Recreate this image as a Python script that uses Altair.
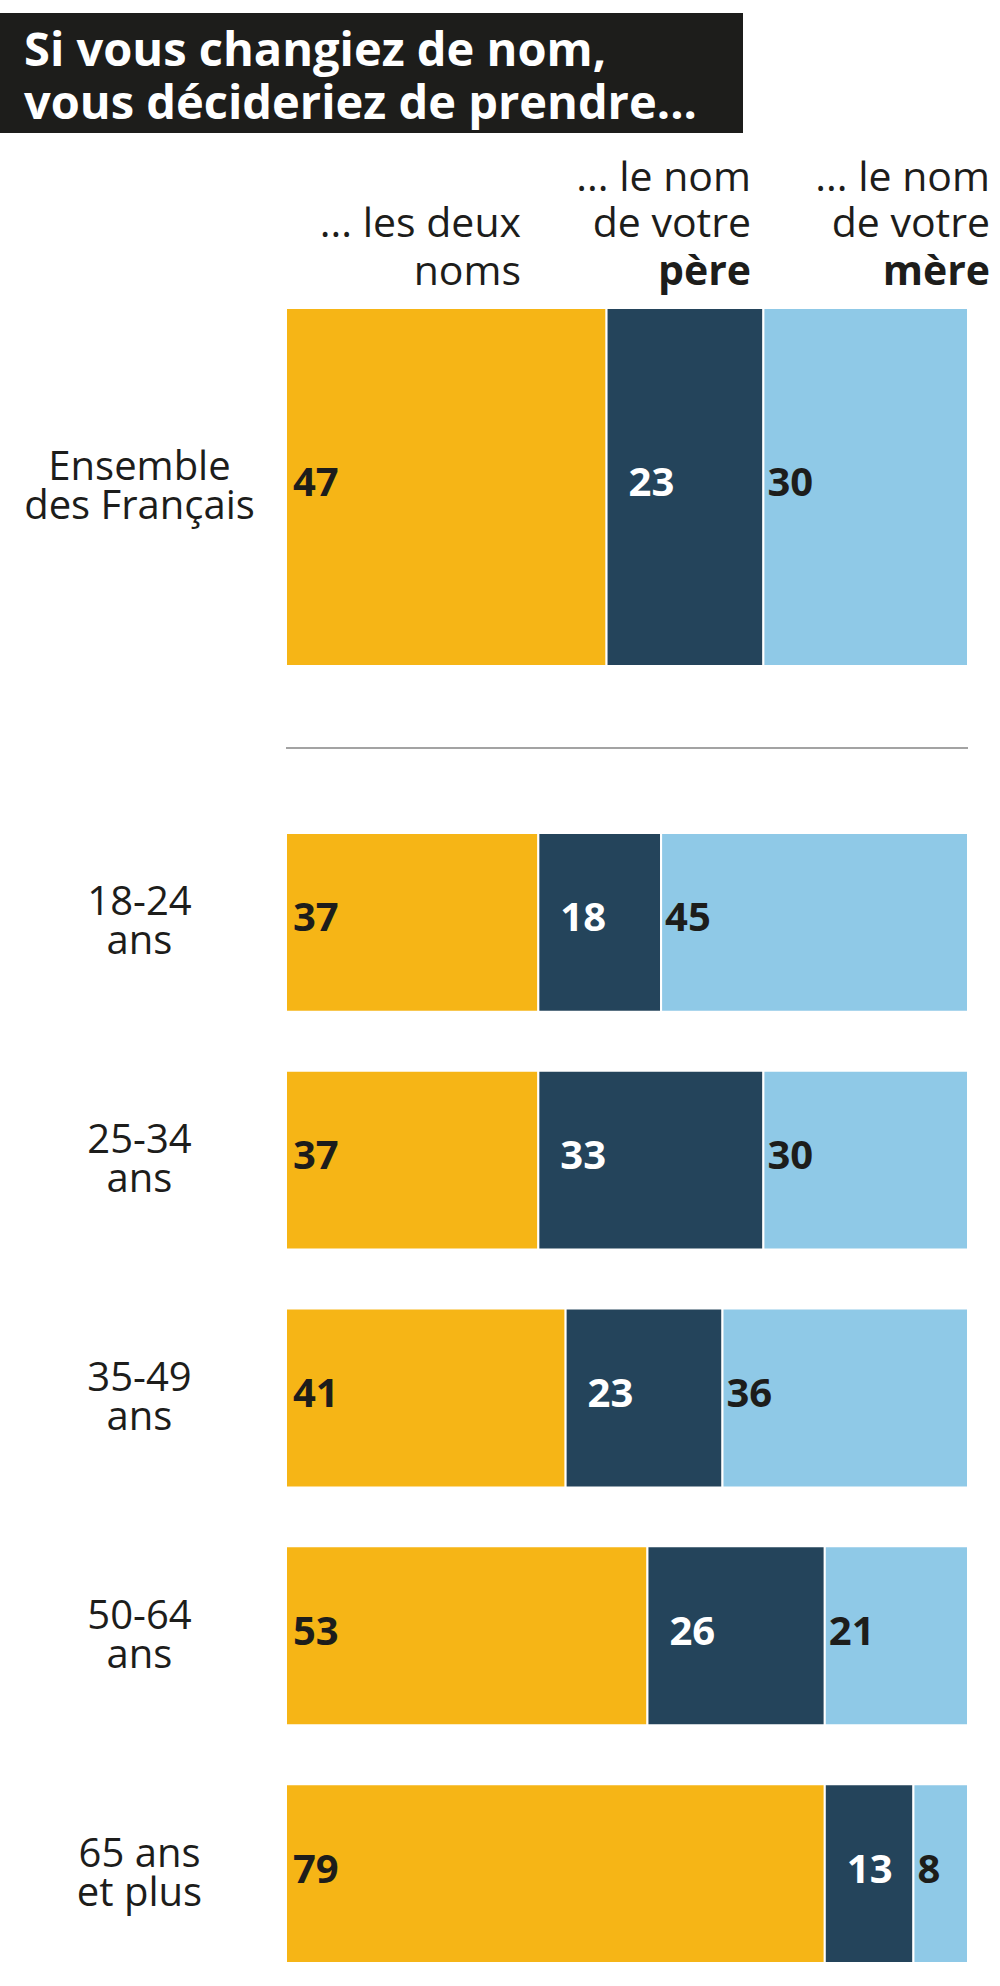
import altair as alt
import pandas as pd

# ---------------- data ----------------
title_lines = ["Si vous changiez de nom,", "vous décideriez de prendre..."]
series = ["les deux noms", "le nom de votre père", "le nom de votre mère"]
header_regular = [["... les deux", "noms"], ["... le nom", "de votre"], ["... le nom", "de votre"]]
header_bold = ["", "père", "mère"]
colors = ["#F6B516", "#24445B", "#8FC9E7"]
label_colors = ["#1d1d1b", "#ffffff", "#1d1d1b"]

group_all = ["Ensemble|des Français"]
values_all = [47, 23, 30]

age_groups = ["18-24|ans", "25-34|ans", "35-49|ans", "50-64|ans", "65 ans|et plus"]
deux_noms = [37, 37, 41, 53, 79]
nom_pere = [18, 33, 23, 26, 13]
nom_mere = [45, 30, 36, 21, 8]

FONT = "Open Sans"
INK = "#1d1d1b"
BAR_W = 682


def make_df(groups, cols):
    rows = []
    for gi, g in enumerate(groups):
        for si, s in enumerate(series):
            rows.append({"group": g, "series": s, "order": si, "value": cols[si][gi]})
    return pd.DataFrame(rows)


df_all = make_df(group_all, [[values_all[0]], [values_all[1]], [values_all[2]]])
df_age = make_df(age_groups, [deux_noms, nom_pere, nom_mere])

xscale = alt.Scale(domain=[0, 100], nice=False, zero=True)
label_dx = [7, 22, 4]


def bar_panel(df, domain, height, p_inner, p_outer, align, extra=None):
    y = alt.Y(
        "group:N",
        sort=domain,
        scale=alt.Scale(domain=domain, paddingInner=p_inner, paddingOuter=p_outer, align=align),
        axis=alt.Axis(
            title=None, domain=False, ticks=False, tickSize=0, grid=False,
            labelAlign="center", labelBaseline="middle", labelPadding=147,
            labelOffset=-19,
            labelFont=FONT, labelFontSize=40, labelColor=INK, labelLineHeight=39,
            labelLimit=400, labelExpr="split(datum.label, '|')",
        ),
    )
    base = alt.Chart(df).transform_stack(
        stack="value", groupby=["group"], as_=["v0", "v1"],
        sort=[alt.SortField(field="order", order="ascending")],
    )
    bars = base.mark_bar(stroke="white", strokeWidth=2).encode(
        x=alt.X("v0:Q", scale=xscale, axis=None),
        x2="v1:Q",
        y=y,
        color=alt.Color("series:N", scale=alt.Scale(domain=series, range=colors), legend=None),
    )
    layers = [bars]
    for s, c, dx in zip(series, label_colors, label_dx):
        layers.append(
            base.transform_filter(alt.datum.series == s)
            .mark_text(align="left", baseline="middle", dx=dx, dy=-3, font=FONT,
                       fontSize=40, fontWeight="bold", color=c)
            .encode(x=alt.X("v0:Q", scale=xscale, axis=None), y=y, text="value:Q")
        )
    if extra is not None:
        layers.append(extra)
    return alt.layer(*layers).properties(width=BAR_W, height=height)


# ---------------- header panel ----------------
dummy = pd.DataFrame({"k": [0]})


def txt(text, x, y, size=41, bold=False, color=INK, align="right"):
    return alt.Chart(dummy).mark_text(
        align=align, baseline="alphabetic", font=FONT, fontSize=size,
        fontWeight="bold" if bold else "normal", color=color,
    ).encode(x=alt.value(x), y=alt.value(y), text=alt.value(text))


title_box = alt.Chart(dummy).mark_rect(color=INK).encode(
    x=alt.value(-286), x2=alt.value(457), y=alt.value(0), y2=alt.value(120)
)
hdr_layers = [title_box,
              txt(title_lines[0], -262, 53, size=47, bold=True, color="white", align="left"),
              txt(title_lines[1], -262, 106, size=47, bold=True, color="white", align="left")]

col_right = [235, 465, 704]
line_y = [178, 224, 272]
for i in range(3):
    reg = header_regular[i]
    if header_bold[i]:
        hdr_layers.append(txt(reg[0], col_right[i], line_y[0]))
        hdr_layers.append(txt(reg[1], col_right[i], line_y[1]))
        hdr_layers.append(txt(header_bold[i], col_right[i], line_y[2], bold=True))
    else:
        hdr_layers.append(txt(reg[0], col_right[i], line_y[1]))
        hdr_layers.append(txt(reg[1], col_right[i], line_y[2]))

header = alt.layer(*hdr_layers).properties(width=BAR_W, height=295)

separator = alt.Chart(dummy).mark_rule(color="#a3a3a3", strokeWidth=2).encode(
    x=alt.value(0), x2=alt.value(BAR_W), y=alt.value(440)
)

panel_all = bar_panel(df_all, group_all, 441, 0, 0.1159, 0, extra=separator)
panel_age = bar_panel(df_age, age_groups, 1214, 0.248, 0.1765, 1)

chart = alt.vconcat(header, panel_all, panel_age, spacing=0, bounds="flush").properties(
    padding={"left": 0, "top": 13, "right": 0, "bottom": 0},
    background="white",
).configure_view(stroke=None)

chart.save("out.html", embed_options={"renderer": "svg", "actions": False})
